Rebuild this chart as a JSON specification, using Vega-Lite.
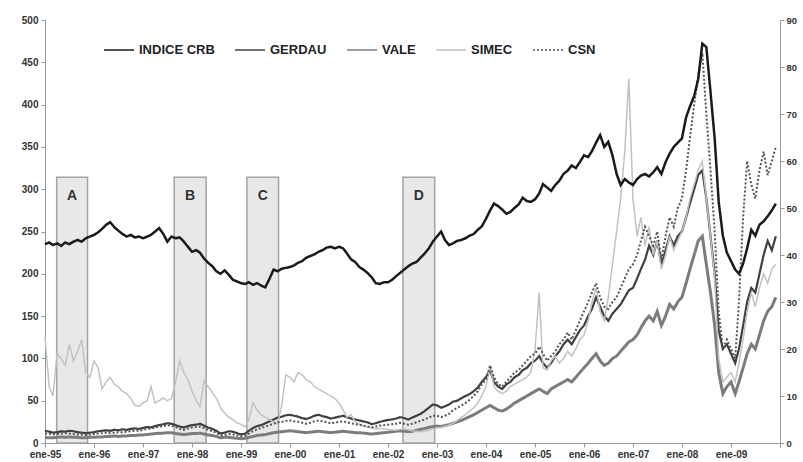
{
"$schema":"https://vega.github.io/schema/vega-lite/v6.json",
"width":735,"height":423,
"autosize":{"type":"none"},
"padding":{"left":45,"top":20,"right":23,"bottom":19},
"background":"white",
"config":{
 "view":{"stroke":null},
 "axis":{"grid":false,"domainColor":"#9a9a9a","tickColor":"#9a9a9a","tickSize":4,"labelFont":"Liberation Sans, sans-serif","labelFontWeight":"bold","labelFontSize":10,"labelColor":"#333333","title":null}
},
"datasets":{
"z":[
{"z":"A","x0":"1995-03-29","x1":"1995-11-14","m":"1995-07-22"},
{"z":"B","x0":"1997-08-21","x1":"1998-04-16","m":"1997-12-18"},
{"z":"C","x0":"1999-02-14","x1":"1999-10-08","m":"1999-06-12"},
{"z":"D","x0":"2002-04-22","x1":"2002-12-15","m":"2002-08-19"}
],
"s":[
{"d":"1995-01-01","CRB":235,"GERDAU":2.6,"VALE":1.2,"SIMEC":22.5,"CSN":2.0},
{"d":"1995-02-01","CRB":237,"GERDAU":2.4,"VALE":1.1,"SIMEC":12.0,"CSN":1.9},
{"d":"1995-03-01","CRB":234,"GERDAU":2.2,"VALE":1.1,"SIMEC":10.0,"CSN":1.8},
{"d":"1995-04-01","CRB":236,"GERDAU":2.3,"VALE":1.2,"SIMEC":19.0,"CSN":1.9},
{"d":"1995-05-01","CRB":233,"GERDAU":2.5,"VALE":1.3,"SIMEC":18.0,"CSN":2.0},
{"d":"1995-06-01","CRB":237,"GERDAU":2.4,"VALE":1.2,"SIMEC":16.5,"CSN":2.1},
{"d":"1995-07-01","CRB":235,"GERDAU":2.6,"VALE":1.3,"SIMEC":21.0,"CSN":2.0},
{"d":"1995-08-01","CRB":238,"GERDAU":2.5,"VALE":1.2,"SIMEC":17.5,"CSN":1.9},
{"d":"1995-09-01","CRB":240,"GERDAU":2.3,"VALE":1.2,"SIMEC":19.5,"CSN":1.8},
{"d":"1995-10-01","CRB":238,"GERDAU":2.2,"VALE":1.1,"SIMEC":22.0,"CSN":1.8},
{"d":"1995-11-01","CRB":242,"GERDAU":2.1,"VALE":1.1,"SIMEC":15.0,"CSN":1.7},
{"d":"1995-12-01","CRB":244,"GERDAU":2.2,"VALE":1.2,"SIMEC":14.0,"CSN":1.8},
{"d":"1996-01-01","CRB":246,"GERDAU":2.3,"VALE":1.2,"SIMEC":17.5,"CSN":1.9},
{"d":"1996-02-01","CRB":249,"GERDAU":2.5,"VALE":1.3,"SIMEC":16.0,"CSN":2.0},
{"d":"1996-03-01","CRB":253,"GERDAU":2.6,"VALE":1.3,"SIMEC":11.5,"CSN":2.1},
{"d":"1996-04-01","CRB":258,"GERDAU":2.7,"VALE":1.4,"SIMEC":13.0,"CSN":2.2},
{"d":"1996-05-01","CRB":261,"GERDAU":2.6,"VALE":1.4,"SIMEC":14.0,"CSN":2.1},
{"d":"1996-06-01","CRB":255,"GERDAU":2.8,"VALE":1.5,"SIMEC":12.5,"CSN":2.2},
{"d":"1996-07-01","CRB":251,"GERDAU":2.7,"VALE":1.4,"SIMEC":12.0,"CSN":2.3},
{"d":"1996-08-01","CRB":247,"GERDAU":2.9,"VALE":1.5,"SIMEC":11.0,"CSN":2.3},
{"d":"1996-09-01","CRB":244,"GERDAU":2.8,"VALE":1.5,"SIMEC":10.5,"CSN":2.4},
{"d":"1996-10-01","CRB":246,"GERDAU":3.0,"VALE":1.6,"SIMEC":9.5,"CSN":2.5},
{"d":"1996-11-01","CRB":243,"GERDAU":3.1,"VALE":1.6,"SIMEC":8.0,"CSN":2.6},
{"d":"1996-12-01","CRB":244,"GERDAU":3.0,"VALE":1.7,"SIMEC":7.8,"CSN":2.6},
{"d":"1997-01-01","CRB":242,"GERDAU":3.2,"VALE":1.7,"SIMEC":8.5,"CSN":2.8},
{"d":"1997-02-01","CRB":244,"GERDAU":3.4,"VALE":1.8,"SIMEC":9.0,"CSN":3.0},
{"d":"1997-03-01","CRB":246,"GERDAU":3.3,"VALE":1.9,"SIMEC":12.0,"CSN":3.1},
{"d":"1997-04-01","CRB":250,"GERDAU":3.6,"VALE":2.0,"SIMEC":8.5,"CSN":3.3},
{"d":"1997-05-01","CRB":254,"GERDAU":3.8,"VALE":2.1,"SIMEC":9.0,"CSN":3.5},
{"d":"1997-06-01","CRB":247,"GERDAU":4.0,"VALE":2.1,"SIMEC":9.6,"CSN":3.6},
{"d":"1997-07-01","CRB":238,"GERDAU":4.2,"VALE":2.2,"SIMEC":9.0,"CSN":3.8},
{"d":"1997-08-01","CRB":244,"GERDAU":4.1,"VALE":2.2,"SIMEC":9.5,"CSN":3.7},
{"d":"1997-09-01","CRB":242,"GERDAU":3.8,"VALE":2.0,"SIMEC":13.0,"CSN":3.4},
{"d":"1997-10-01","CRB":243,"GERDAU":3.5,"VALE":1.9,"SIMEC":17.5,"CSN":3.0},
{"d":"1997-11-01","CRB":238,"GERDAU":3.3,"VALE":1.8,"SIMEC":15.0,"CSN":2.8},
{"d":"1997-12-01","CRB":232,"GERDAU":3.6,"VALE":1.9,"SIMEC":13.5,"CSN":3.1},
{"d":"1998-01-01","CRB":226,"GERDAU":3.8,"VALE":2.0,"SIMEC":11.0,"CSN":3.3},
{"d":"1998-02-01","CRB":228,"GERDAU":3.9,"VALE":2.0,"SIMEC":9.0,"CSN":3.4},
{"d":"1998-03-01","CRB":225,"GERDAU":4.1,"VALE":2.1,"SIMEC":7.7,"CSN":3.5},
{"d":"1998-04-01","CRB":218,"GERDAU":3.7,"VALE":1.9,"SIMEC":13.2,"CSN":3.2},
{"d":"1998-05-01","CRB":213,"GERDAU":3.3,"VALE":1.7,"SIMEC":12.0,"CSN":2.8},
{"d":"1998-06-01","CRB":209,"GERDAU":3.0,"VALE":1.6,"SIMEC":10.8,"CSN":2.5},
{"d":"1998-07-01","CRB":203,"GERDAU":2.6,"VALE":1.4,"SIMEC":9.5,"CSN":2.2},
{"d":"1998-08-01","CRB":200,"GERDAU":2.0,"VALE":1.1,"SIMEC":7.5,"CSN":1.6},
{"d":"1998-09-01","CRB":204,"GERDAU":2.2,"VALE":1.2,"SIMEC":6.4,"CSN":1.7},
{"d":"1998-10-01","CRB":199,"GERDAU":2.5,"VALE":1.2,"SIMEC":5.5,"CSN":1.9},
{"d":"1998-11-01","CRB":193,"GERDAU":2.4,"VALE":1.1,"SIMEC":5.0,"CSN":1.8},
{"d":"1998-12-01","CRB":191,"GERDAU":2.1,"VALE":1.0,"SIMEC":4.3,"CSN":1.6},
{"d":"1999-01-01","CRB":189,"GERDAU":1.8,"VALE":0.9,"SIMEC":4.0,"CSN":1.4},
{"d":"1999-02-01","CRB":188,"GERDAU":2.0,"VALE":1.0,"SIMEC":3.4,"CSN":1.6},
{"d":"1999-03-01","CRB":190,"GERDAU":2.6,"VALE":1.2,"SIMEC":5.0,"CSN":2.0},
{"d":"1999-04-01","CRB":187,"GERDAU":3.2,"VALE":1.4,"SIMEC":8.5,"CSN":2.5},
{"d":"1999-05-01","CRB":189,"GERDAU":3.6,"VALE":1.6,"SIMEC":7.0,"CSN":2.9},
{"d":"1999-06-01","CRB":186,"GERDAU":3.8,"VALE":1.7,"SIMEC":6.0,"CSN":3.2},
{"d":"1999-07-01","CRB":184,"GERDAU":4.2,"VALE":1.8,"SIMEC":5.5,"CSN":3.5},
{"d":"1999-08-01","CRB":194,"GERDAU":4.6,"VALE":2.0,"SIMEC":5.0,"CSN":3.8},
{"d":"1999-09-01","CRB":205,"GERDAU":5.0,"VALE":2.2,"SIMEC":4.5,"CSN":4.1},
{"d":"1999-10-01","CRB":203,"GERDAU":5.4,"VALE":2.3,"SIMEC":4.0,"CSN":4.4},
{"d":"1999-11-01","CRB":206,"GERDAU":5.6,"VALE":2.4,"SIMEC":8.0,"CSN":4.5},
{"d":"1999-12-01","CRB":207,"GERDAU":5.9,"VALE":2.5,"SIMEC":14.5,"CSN":4.7},
{"d":"2000-01-01","CRB":208,"GERDAU":6.0,"VALE":2.6,"SIMEC":14.0,"CSN":4.8},
{"d":"2000-02-01","CRB":210,"GERDAU":5.8,"VALE":2.5,"SIMEC":13.0,"CSN":4.6},
{"d":"2000-03-01","CRB":213,"GERDAU":5.6,"VALE":2.4,"SIMEC":15.0,"CSN":4.5},
{"d":"2000-04-01","CRB":215,"GERDAU":5.3,"VALE":2.3,"SIMEC":14.5,"CSN":4.3},
{"d":"2000-05-01","CRB":219,"GERDAU":5.1,"VALE":2.2,"SIMEC":13.5,"CSN":4.1},
{"d":"2000-06-01","CRB":221,"GERDAU":5.4,"VALE":2.3,"SIMEC":13.0,"CSN":4.3},
{"d":"2000-07-01","CRB":223,"GERDAU":5.8,"VALE":2.4,"SIMEC":12.0,"CSN":4.6},
{"d":"2000-08-01","CRB":226,"GERDAU":6.0,"VALE":2.5,"SIMEC":11.5,"CSN":4.8},
{"d":"2000-09-01","CRB":228,"GERDAU":5.7,"VALE":2.4,"SIMEC":11.0,"CSN":4.6},
{"d":"2000-10-01","CRB":231,"GERDAU":5.5,"VALE":2.3,"SIMEC":10.5,"CSN":4.4},
{"d":"2000-11-01","CRB":232,"GERDAU":5.2,"VALE":2.2,"SIMEC":10.0,"CSN":4.2},
{"d":"2000-12-01","CRB":230,"GERDAU":5.4,"VALE":2.3,"SIMEC":9.5,"CSN":4.3},
{"d":"2001-01-01","CRB":232,"GERDAU":5.6,"VALE":2.4,"SIMEC":8.5,"CSN":4.5},
{"d":"2001-02-01","CRB":230,"GERDAU":5.8,"VALE":2.5,"SIMEC":7.0,"CSN":4.6},
{"d":"2001-03-01","CRB":224,"GERDAU":5.5,"VALE":2.4,"SIMEC":5.5,"CSN":4.4},
{"d":"2001-04-01","CRB":217,"GERDAU":5.2,"VALE":2.3,"SIMEC":6.0,"CSN":4.2},
{"d":"2001-05-01","CRB":214,"GERDAU":5.0,"VALE":2.2,"SIMEC":4.5,"CSN":4.0},
{"d":"2001-06-01","CRB":208,"GERDAU":4.8,"VALE":2.2,"SIMEC":4.0,"CSN":3.9},
{"d":"2001-07-01","CRB":205,"GERDAU":4.6,"VALE":2.1,"SIMEC":3.6,"CSN":3.7},
{"d":"2001-08-01","CRB":201,"GERDAU":4.4,"VALE":2.0,"SIMEC":3.4,"CSN":3.5},
{"d":"2001-09-01","CRB":196,"GERDAU":4.0,"VALE":1.9,"SIMEC":3.2,"CSN":3.3},
{"d":"2001-10-01","CRB":189,"GERDAU":4.2,"VALE":2.0,"SIMEC":3.0,"CSN":3.5},
{"d":"2001-11-01","CRB":188,"GERDAU":4.5,"VALE":2.1,"SIMEC":3.1,"CSN":3.7},
{"d":"2001-12-01","CRB":190,"GERDAU":4.7,"VALE":2.2,"SIMEC":3.0,"CSN":3.8},
{"d":"2002-01-01","CRB":190,"GERDAU":4.9,"VALE":2.3,"SIMEC":2.9,"CSN":3.9},
{"d":"2002-02-01","CRB":193,"GERDAU":5.0,"VALE":2.4,"SIMEC":2.8,"CSN":4.0},
{"d":"2002-03-01","CRB":197,"GERDAU":5.2,"VALE":2.5,"SIMEC":2.7,"CSN":4.1},
{"d":"2002-04-01","CRB":201,"GERDAU":5.5,"VALE":2.6,"SIMEC":2.9,"CSN":4.3},
{"d":"2002-05-01","CRB":205,"GERDAU":5.3,"VALE":2.5,"SIMEC":3.0,"CSN":4.1},
{"d":"2002-06-01","CRB":209,"GERDAU":5.0,"VALE":2.4,"SIMEC":2.8,"CSN":3.9},
{"d":"2002-07-01","CRB":212,"GERDAU":5.4,"VALE":2.5,"SIMEC":2.6,"CSN":4.1},
{"d":"2002-08-01","CRB":214,"GERDAU":5.8,"VALE":2.7,"SIMEC":2.5,"CSN":4.4},
{"d":"2002-09-01","CRB":219,"GERDAU":6.2,"VALE":2.9,"SIMEC":2.4,"CSN":4.7},
{"d":"2002-10-01","CRB":224,"GERDAU":6.8,"VALE":3.1,"SIMEC":2.5,"CSN":5.0},
{"d":"2002-11-01","CRB":230,"GERDAU":7.5,"VALE":3.3,"SIMEC":2.7,"CSN":5.4},
{"d":"2002-12-01","CRB":238,"GERDAU":8.2,"VALE":3.5,"SIMEC":3.0,"CSN":5.8},
{"d":"2003-01-01","CRB":244,"GERDAU":8.0,"VALE":3.6,"SIMEC":3.2,"CSN":5.8},
{"d":"2003-02-01","CRB":250,"GERDAU":7.5,"VALE":3.5,"SIMEC":3.3,"CSN":5.5},
{"d":"2003-03-01","CRB":240,"GERDAU":7.8,"VALE":3.7,"SIMEC":3.5,"CSN":5.8},
{"d":"2003-04-01","CRB":234,"GERDAU":8.2,"VALE":3.9,"SIMEC":3.8,"CSN":6.2},
{"d":"2003-05-01","CRB":236,"GERDAU":8.8,"VALE":4.2,"SIMEC":4.2,"CSN":7.0},
{"d":"2003-06-01","CRB":239,"GERDAU":9.0,"VALE":4.5,"SIMEC":4.8,"CSN":7.5},
{"d":"2003-07-01","CRB":240,"GERDAU":9.5,"VALE":4.8,"SIMEC":5.5,"CSN":8.0},
{"d":"2003-08-01","CRB":242,"GERDAU":10.0,"VALE":5.2,"SIMEC":6.0,"CSN":8.5},
{"d":"2003-09-01","CRB":245,"GERDAU":10.4,"VALE":5.6,"SIMEC":6.8,"CSN":9.2},
{"d":"2003-10-01","CRB":247,"GERDAU":11.0,"VALE":6.0,"SIMEC":7.5,"CSN":10.0},
{"d":"2003-11-01","CRB":252,"GERDAU":11.8,"VALE":6.5,"SIMEC":8.5,"CSN":11.0},
{"d":"2003-12-01","CRB":256,"GERDAU":13.0,"VALE":7.0,"SIMEC":10.0,"CSN":12.5},
{"d":"2004-01-01","CRB":265,"GERDAU":14.0,"VALE":7.5,"SIMEC":12.0,"CSN":13.5},
{"d":"2004-02-01","CRB":275,"GERDAU":15.5,"VALE":8.0,"SIMEC":16.5,"CSN":16.5},
{"d":"2004-03-01","CRB":283,"GERDAU":13.0,"VALE":7.5,"SIMEC":12.0,"CSN":14.0},
{"d":"2004-04-01","CRB":280,"GERDAU":12.0,"VALE":7.0,"SIMEC":11.0,"CSN":12.5},
{"d":"2004-05-01","CRB":276,"GERDAU":11.5,"VALE":6.8,"SIMEC":10.5,"CSN":12.0},
{"d":"2004-06-01","CRB":271,"GERDAU":12.5,"VALE":7.2,"SIMEC":11.0,"CSN":13.0},
{"d":"2004-07-01","CRB":273,"GERDAU":13.0,"VALE":7.8,"SIMEC":12.0,"CSN":14.0},
{"d":"2004-08-01","CRB":278,"GERDAU":14.0,"VALE":8.5,"SIMEC":12.5,"CSN":15.0},
{"d":"2004-09-01","CRB":282,"GERDAU":14.5,"VALE":9.0,"SIMEC":13.0,"CSN":15.5},
{"d":"2004-10-01","CRB":290,"GERDAU":15.5,"VALE":9.5,"SIMEC":13.5,"CSN":16.5},
{"d":"2004-11-01","CRB":286,"GERDAU":16.0,"VALE":10.0,"SIMEC":14.0,"CSN":17.5},
{"d":"2004-12-01","CRB":285,"GERDAU":17.0,"VALE":10.5,"SIMEC":15.0,"CSN":18.5},
{"d":"2005-01-01","CRB":288,"GERDAU":17.5,"VALE":11.0,"SIMEC":20.0,"CSN":19.0},
{"d":"2005-02-01","CRB":295,"GERDAU":18.5,"VALE":11.5,"SIMEC":32.0,"CSN":20.5},
{"d":"2005-03-01","CRB":306,"GERDAU":17.0,"VALE":11.0,"SIMEC":16.0,"CSN":19.0},
{"d":"2005-04-01","CRB":302,"GERDAU":16.0,"VALE":10.5,"SIMEC":15.5,"CSN":17.5},
{"d":"2005-05-01","CRB":298,"GERDAU":17.0,"VALE":11.5,"SIMEC":17.5,"CSN":18.5},
{"d":"2005-06-01","CRB":305,"GERDAU":18.5,"VALE":12.0,"SIMEC":18.5,"CSN":19.5},
{"d":"2005-07-01","CRB":310,"GERDAU":19.5,"VALE":12.5,"SIMEC":17.0,"CSN":21.0},
{"d":"2005-08-01","CRB":318,"GERDAU":21.0,"VALE":13.0,"SIMEC":18.0,"CSN":22.0},
{"d":"2005-09-01","CRB":322,"GERDAU":22.0,"VALE":13.5,"SIMEC":19.5,"CSN":23.5},
{"d":"2005-10-01","CRB":328,"GERDAU":21.0,"VALE":13.0,"SIMEC":18.5,"CSN":22.0},
{"d":"2005-11-01","CRB":325,"GERDAU":22.5,"VALE":14.0,"SIMEC":20.0,"CSN":24.0},
{"d":"2005-12-01","CRB":332,"GERDAU":24.0,"VALE":15.0,"SIMEC":22.0,"CSN":26.0},
{"d":"2006-01-01","CRB":340,"GERDAU":25.0,"VALE":16.0,"SIMEC":23.0,"CSN":28.0},
{"d":"2006-02-01","CRB":338,"GERDAU":27.0,"VALE":17.0,"SIMEC":26.0,"CSN":30.0},
{"d":"2006-03-01","CRB":345,"GERDAU":28.5,"VALE":18.0,"SIMEC":30.0,"CSN":32.0},
{"d":"2006-04-01","CRB":355,"GERDAU":31.0,"VALE":19.0,"SIMEC":33.0,"CSN":34.0},
{"d":"2006-05-01","CRB":364,"GERDAU":29.0,"VALE":17.5,"SIMEC":28.0,"CSN":31.0},
{"d":"2006-06-01","CRB":350,"GERDAU":27.0,"VALE":16.5,"SIMEC":26.0,"CSN":29.0},
{"d":"2006-07-01","CRB":356,"GERDAU":26.0,"VALE":17.0,"SIMEC":31.0,"CSN":28.5},
{"d":"2006-08-01","CRB":340,"GERDAU":27.5,"VALE":18.0,"SIMEC":38.0,"CSN":30.0},
{"d":"2006-09-01","CRB":318,"GERDAU":28.5,"VALE":18.5,"SIMEC":45.0,"CSN":31.0},
{"d":"2006-10-01","CRB":305,"GERDAU":29.5,"VALE":19.5,"SIMEC":52.0,"CSN":33.0},
{"d":"2006-11-01","CRB":312,"GERDAU":31.0,"VALE":20.5,"SIMEC":62.0,"CSN":35.0},
{"d":"2006-12-01","CRB":308,"GERDAU":32.5,"VALE":21.5,"SIMEC":77.5,"CSN":37.0},
{"d":"2007-01-01","CRB":305,"GERDAU":33.0,"VALE":22.0,"SIMEC":52.0,"CSN":38.0},
{"d":"2007-02-01","CRB":312,"GERDAU":35.0,"VALE":23.0,"SIMEC":44.0,"CSN":40.0},
{"d":"2007-03-01","CRB":316,"GERDAU":37.0,"VALE":24.5,"SIMEC":48.0,"CSN":43.0},
{"d":"2007-04-01","CRB":318,"GERDAU":39.0,"VALE":26.0,"SIMEC":42.0,"CSN":46.0},
{"d":"2007-05-01","CRB":315,"GERDAU":42.0,"VALE":27.0,"SIMEC":46.0,"CSN":44.0},
{"d":"2007-06-01","CRB":320,"GERDAU":40.0,"VALE":26.0,"SIMEC":40.0,"CSN":42.0},
{"d":"2007-07-01","CRB":326,"GERDAU":43.0,"VALE":28.0,"SIMEC":43.0,"CSN":45.0},
{"d":"2007-08-01","CRB":318,"GERDAU":38.0,"VALE":25.0,"SIMEC":37.0,"CSN":39.0},
{"d":"2007-09-01","CRB":332,"GERDAU":41.0,"VALE":27.0,"SIMEC":40.0,"CSN":44.0},
{"d":"2007-10-01","CRB":342,"GERDAU":44.0,"VALE":29.5,"SIMEC":44.0,"CSN":48.0},
{"d":"2007-11-01","CRB":350,"GERDAU":42.0,"VALE":28.5,"SIMEC":41.0,"CSN":46.0},
{"d":"2007-12-01","CRB":355,"GERDAU":44.0,"VALE":30.0,"SIMEC":43.0,"CSN":50.0},
{"d":"2008-01-01","CRB":360,"GERDAU":45.0,"VALE":31.0,"SIMEC":45.0,"CSN":52.0},
{"d":"2008-02-01","CRB":385,"GERDAU":48.0,"VALE":34.0,"SIMEC":48.0,"CSN":58.0},
{"d":"2008-03-01","CRB":398,"GERDAU":51.0,"VALE":37.0,"SIMEC":52.0,"CSN":65.0},
{"d":"2008-04-01","CRB":410,"GERDAU":54.0,"VALE":40.0,"SIMEC":55.0,"CSN":72.0},
{"d":"2008-05-01","CRB":430,"GERDAU":57.0,"VALE":43.0,"SIMEC":58.0,"CSN":78.0},
{"d":"2008-06-01","CRB":472,"GERDAU":58.0,"VALE":44.0,"SIMEC":60.0,"CSN":83.0},
{"d":"2008-07-01","CRB":468,"GERDAU":52.0,"VALE":38.0,"SIMEC":52.0,"CSN":70.0},
{"d":"2008-08-01","CRB":415,"GERDAU":44.0,"VALE":32.0,"SIMEC":44.0,"CSN":58.0},
{"d":"2008-09-01","CRB":360,"GERDAU":36.0,"VALE":25.0,"SIMEC":35.0,"CSN":45.0},
{"d":"2008-10-01","CRB":285,"GERDAU":24.0,"VALE":15.0,"SIMEC":18.0,"CSN":28.0},
{"d":"2008-11-01","CRB":245,"GERDAU":20.0,"VALE":10.5,"SIMEC":13.0,"CSN":20.0},
{"d":"2008-12-01","CRB":225,"GERDAU":21.0,"VALE":12.0,"SIMEC":14.0,"CSN":22.0},
{"d":"2009-01-01","CRB":215,"GERDAU":19.0,"VALE":13.0,"SIMEC":15.0,"CSN":20.0},
{"d":"2009-02-01","CRB":205,"GERDAU":17.0,"VALE":10.5,"SIMEC":13.0,"CSN":18.0},
{"d":"2009-03-01","CRB":200,"GERDAU":20.0,"VALE":13.0,"SIMEC":17.0,"CSN":30.0},
{"d":"2009-04-01","CRB":212,"GERDAU":25.0,"VALE":16.0,"SIMEC":22.0,"CSN":48.0},
{"d":"2009-05-01","CRB":230,"GERDAU":30.0,"VALE":19.0,"SIMEC":28.0,"CSN":60.0},
{"d":"2009-06-01","CRB":252,"GERDAU":33.0,"VALE":21.0,"SIMEC":32.0,"CSN":55.0},
{"d":"2009-07-01","CRB":245,"GERDAU":32.0,"VALE":20.0,"SIMEC":29.0,"CSN":52.0},
{"d":"2009-08-01","CRB":258,"GERDAU":36.0,"VALE":23.0,"SIMEC":33.0,"CSN":58.0},
{"d":"2009-09-01","CRB":262,"GERDAU":40.0,"VALE":26.0,"SIMEC":36.0,"CSN":62.0},
{"d":"2009-10-01","CRB":268,"GERDAU":43.0,"VALE":28.0,"SIMEC":34.0,"CSN":57.0},
{"d":"2009-11-01","CRB":275,"GERDAU":41.0,"VALE":29.0,"SIMEC":37.0,"CSN":60.0},
{"d":"2009-12-01","CRB":283,"GERDAU":44.0,"VALE":31.0,"SIMEC":38.0,"CSN":63.0}
]},
"layer":[
 {"data":{"name":"z"},
  "layer":[
   {"mark":{"type":"rect","fill":"#e8e8e8","stroke":"#a3a3a3","strokeWidth":1.5},
    "encoding":{
     "x":{"field":"x0","type":"temporal",
      "scale":{"type":"utc","domain":[{"year":1995,"month":1,"date":1,"utc":true},{"year":2010,"month":1,"date":1,"utc":true}]},
      "axis":{"orient":"bottom","values":[
       {"year":1995,"month":1,"date":1,"utc":true},{"year":1996,"month":1,"date":1,"utc":true},{"year":1997,"month":1,"date":1,"utc":true},{"year":1998,"month":1,"date":1,"utc":true},
       {"year":1999,"month":1,"date":1,"utc":true},{"year":2000,"month":1,"date":1,"utc":true},{"year":2001,"month":1,"date":1,"utc":true},{"year":2002,"month":1,"date":1,"utc":true},
       {"year":2003,"month":1,"date":1,"utc":true},{"year":2004,"month":1,"date":1,"utc":true},{"year":2005,"month":1,"date":1,"utc":true},{"year":2006,"month":1,"date":1,"utc":true},
       {"year":2007,"month":1,"date":1,"utc":true},{"year":2008,"month":1,"date":1,"utc":true},{"year":2009,"month":1,"date":1,"utc":true},{"year":2010,"month":1,"date":1,"utc":true}],
       "labelExpr":"utcyear(datum.value) >= 2010 ? '' : 'ene-' + utcFormat(datum.value, '%y')",
       "labelFont":"Liberation Sans Narrow, Liberation Sans, sans-serif","labelFontSize":10,"labelPadding":2,"labelFlush":false,"labelOverlap":false}},
     "x2":{"field":"x1"},
     "y":{"datum":314,"type":"quantitative","scale":{"domain":[0,500],"nice":false},
      "axis":{"orient":"left","values":[0,50,100,150,200,250,300,350,400,450,500],"labelPadding":3}},
     "y2":{"datum":0}
    }},
   {"mark":{"type":"text","font":"Liberation Sans, sans-serif","fontWeight":"bold","fontSize":14,"color":"#333333"},
    "encoding":{
     "x":{"field":"m","type":"temporal"},
     "y":{"datum":292,"type":"quantitative"},
     "text":{"field":"z"}
    }}
  ]},
 {"data":{"name":"s"},
  "transform":[{"fold":["GERDAU","VALE","SIMEC","CSN"],"as":["k","v"]}],
  "mark":{"type":"line"},
  "encoding":{
   "x":{"field":"d","type":"temporal"},
   "y":{"field":"v","type":"quantitative","scale":{"domain":[0,90],"nice":false},
    "axis":{"orient":"right","values":[0,10,20,30,40,50,60,70,80,90],"labelPadding":2,"labelFontSize":9.5}},
   "color":{"field":"k","type":"nominal",
    "scale":{"domain":["INDICE CRB","GERDAU","VALE","SIMEC","CSN"],"range":["#1a1a1a","#404040","#7c7c7c","#c2c2c2","#555555"]},
    "legend":{"title":null,"orient":"none","legendX":58,"legendY":14,"direction":"horizontal","columns":5,
     "symbolType":"stroke","symbolSize":900,"labelFont":"Liberation Sans Narrow, Liberation Sans, sans-serif","labelFontWeight":"bold","labelFontSize":13,
     "labelColor":"#222222","labelOffset":4,"columnPadding":17}},
   "strokeDash":{"field":"k","type":"nominal",
    "scale":{"domain":["INDICE CRB","GERDAU","VALE","SIMEC","CSN"],"range":[[1,0],[1,0],[1,0],[1,0],[2,2]]},"legend":null},
   "strokeWidth":{"field":"k","type":"nominal",
    "scale":{"type":"ordinal","domain":["INDICE CRB","GERDAU","VALE","SIMEC","CSN"],"range":[4.2,2.2,3,1.5,2]},"legend":null}
  }},
 {"data":{"name":"s"},
  "mark":{"type":"line"},
  "encoding":{
   "x":{"field":"d","type":"temporal"},
   "y":{"field":"CRB","type":"quantitative","scale":{"domain":[0,500],"nice":false},"axis":null},
   "color":{"datum":"INDICE CRB"},
   "strokeDash":{"datum":"INDICE CRB"},
   "strokeWidth":{"datum":"INDICE CRB"}
  }}
],
"resolve":{"scale":{"y":"independent"}}
}
